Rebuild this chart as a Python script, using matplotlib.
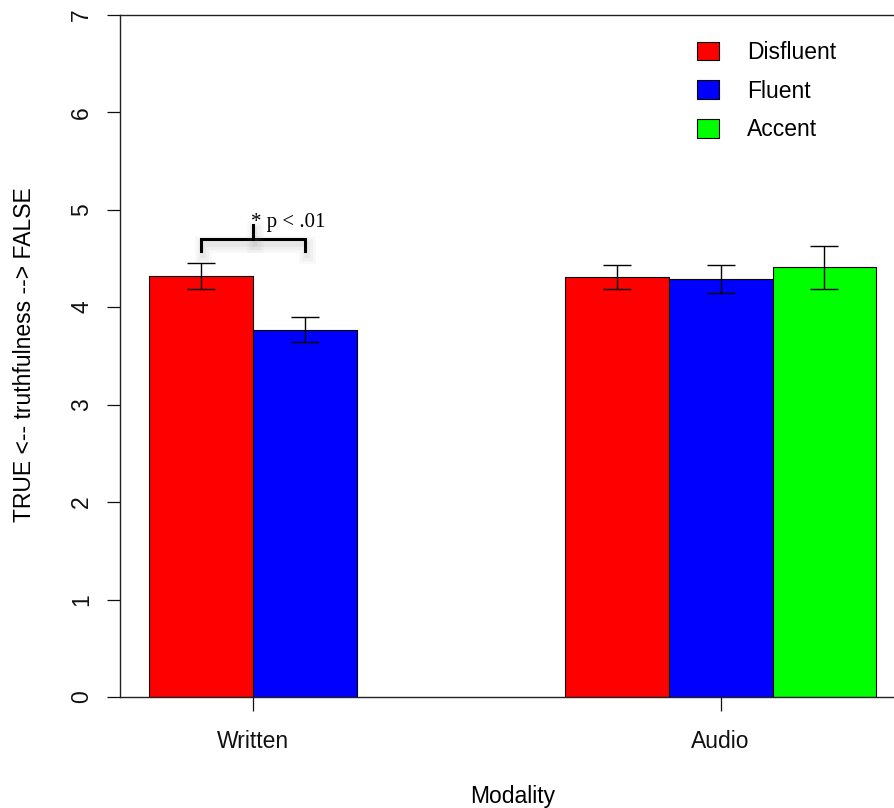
import numpy as np
import matplotlib
matplotlib.use('Agg')
import matplotlib.pyplot as plt
import matplotlib.patheffects as pe

# data
modalities = ['Written', 'Audio']
conditions = ['Disfluent', 'Fluent', 'Accent']
colors = ['#FF0000', '#0000FF', '#00FF00']

disfluent_mean = [4.32, 4.31]
fluent_mean = [3.77, 4.29]
accent_mean = [np.nan, 4.41]

disfluent_se = [0.135, 0.125]
fluent_se = [0.13, 0.145]
accent_se = [np.nan, 0.22]

yticks = [0, 1, 2, 3, 4, 5, 6, 7]
sig_label = '* p < .01'

means = [disfluent_mean, fluent_mean, accent_mean]
ses = [disfluent_se, fluent_se, accent_se]

plt.rcParams['font.family'] = ['Liberation Sans', 'DejaVu Sans']
fs = 16.5

fig = plt.figure(figsize=(8.95, 8.08), dpi=100)
ax = fig.add_axes([120 / 895, 1 - 697 / 808, 785.5 / 895, (697 - 14.7) / 808])

# R-style barplot: groups of 3 bars, one bar gap between groups
n_cond = len(conditions)
group_centers = []
for g, mod in enumerate(modalities):
    xs = []
    for k in range(n_cond):
        x = 1.5 + g * (n_cond + 1) + k
        m = means[k][g]
        if np.isnan(m):
            continue
        xs.append(x)
        ax.bar(x, m, width=1.0, color=colors[k], edgecolor='black',
               linewidth=0.8, label=conditions[k] if g == 1 else None, zorder=2)
        ax.errorbar(x, m, yerr=ses[k][g], fmt='none', ecolor='black',
                    elinewidth=1.0, capsize=10, capthick=1.0, zorder=3)
    group_centers.append(np.mean(xs))

ax.set_xlim(0.72, 8.28)
ax.set_ylim(0, 7)

ax.set_xticks(group_centers)
ax.set_xticklabels(modalities, fontsize=fs)
ax.set_yticks(yticks)
ax.set_yticklabels([str(t) for t in yticks], fontsize=fs, rotation=90, va='center')
ax.tick_params(axis='x', length=10, width=0.9, pad=14, colors='#111111')
ax.tick_params(axis='y', length=9.4, width=0.9, pad=10, colors='#111111')

for s in ['left', 'bottom', 'top']:
    ax.spines[s].set_linewidth(1.0)
    ax.spines[s].set_color('#222222')
ax.spines['right'].set_visible(False)

fig.text(25 / 895, 1 - 355 / 808, 'TRUE <-- truthfulness --> FALSE',
         rotation=90, ha='center', va='center', fontsize=fs)
fig.text(513 / 895, 1 - 803 / 808, 'Modality', ha='center', va='baseline', fontsize=fs)

# significance bracket between the two written bars, with a soft shadow
x1, x2 = 1.5, 2.5
shadow = [pe.SimpleLineShadow(offset=(1.5, -3.5), shadow_color='gray', alpha=0.05, linewidth=12),
          pe.SimpleLineShadow(offset=(1.5, -3.5), shadow_color='gray', alpha=0.06, linewidth=8),
          pe.SimpleLineShadow(offset=(1.5, -3.5), shadow_color='gray', alpha=0.08, linewidth=4),
          pe.Normal()]
ax.plot([x1, x1, x2, x2], [4.58, 4.70, 4.70, 4.58], color='black', lw=2.2,
        solid_joinstyle='miter', zorder=4, path_effects=shadow)
ax.plot([(x1 + x2) / 2, (x1 + x2) / 2], [4.70, 4.84], color='black', lw=2.2,
        zorder=4, path_effects=shadow)
ax.text(1.977, 4.82, sig_label, family=['Liberation Serif', 'DejaVu Serif'],
        fontsize=15, ha='left', va='baseline', zorder=5)

ax.legend(loc='upper left', bbox_to_anchor=(697 / 895, 1 - 41 / 808),
          bbox_transform=fig.transFigure, frameon=False, fontsize=fs,
          borderpad=0, borderaxespad=0, handlelength=0.96, handleheight=0.87,
          handletextpad=1.22, labelspacing=0.68)

fig.savefig('out.png', dpi=100)
